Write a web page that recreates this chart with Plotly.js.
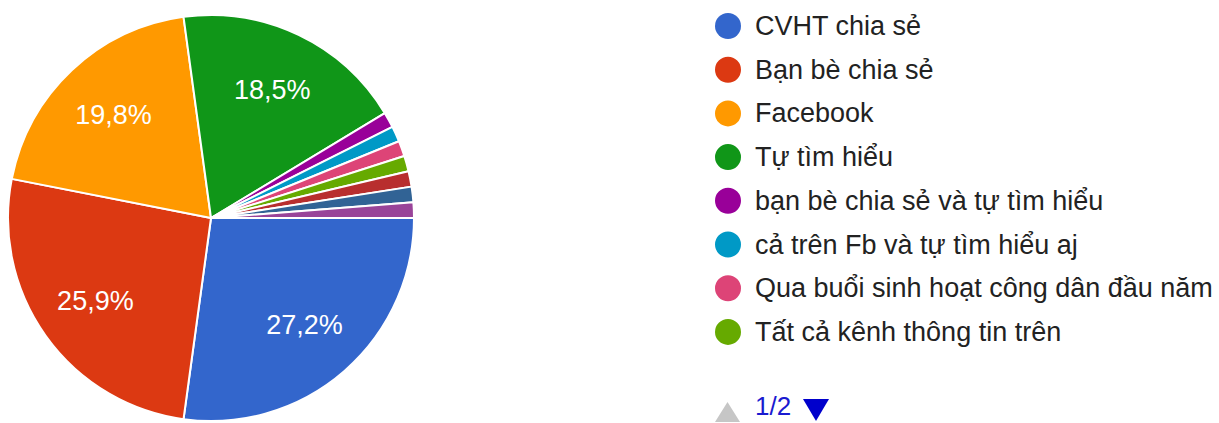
<!DOCTYPE html>
<html>
<head>
<meta charset="utf-8">
<script src="https://cdn.plot.ly/plotly-3.0.1.min.js"></script>
<style>html,body{margin:0;padding:0;background:#fff;}#chart{width:1219px;height:423px;}</style>
</head>
<body>
<div id="chart"></div>
<script>
// Data
const labels = [
  "CVHT chia sẻ",
  "Bạn bè chia sẻ",
  "Facebook",
  "Tự tìm hiểu",
  "bạn bè chia sẻ và tự tìm hiểu",
  "cả trên Fb và tự tìm hiểu aj",
  "Qua buổi sinh hoạt công dân đầu năm",
  "Tất cả kênh thông tin trên",
  "Khác 1",
  "Khác 2",
  "Khác 3"
];
const values = [22, 21, 16, 15, 1, 1, 1, 1, 1, 1, 1];
const colors = ["#3366cc", "#dc3912", "#ff9900", "#109618", "#990099", "#0099c6",
                "#dd4477", "#66aa00", "#b82e2e", "#316395", "#994499"];
const legendPageSize = 8;
const pageText = "1/2";

const W = 1219, H = 423;
const FONT = "Liberation Sans, Arial, sans-serif";
const total = values.reduce((a, b) => a + b, 0);
const templates = values.map(v => (v / total >= 0.05 ? "%{percent:.1%}" : ""));
const pieDomain = { x: [8 / W, 414 / W], y: [2 / H, 408 / H] };

// Filled pie (no text)
const pieFill = {
  type: "pie",
  labels: labels,
  values: values,
  sort: false,
  direction: "clockwise",
  rotation: 90,
  marker: { colors: colors, line: { color: "#ffffff", width: 2 } },
  textinfo: "none",
  showlegend: false,
  domain: pieDomain
};
// Transparent ring carrying the percent labels further out from the centre
const pieText = {
  type: "pie",
  labels: labels,
  values: values,
  sort: false,
  direction: "clockwise",
  rotation: 90,
  hole: 0.4,
  marker: { colors: values.map(() => "rgba(0,0,0,0)"), line: { width: 0 } },
  texttemplate: templates,
  textposition: "inside",
  insidetextorientation: "horizontal",
  textfont: { color: "#ffffff", size: 27, family: FONT },
  hoverinfo: "skip",
  showlegend: false,
  domain: pieDomain
};

// Custom legend (first page)
const shapes = [];
const annotations = [];
const legX = 728, legTextX = 753, legY0 = 26, legDy = 43.7, rad = 13;
const px = x => x / W, py = y => 1 - y / H;
for (let i = 0; i < legendPageSize; i++) {
  const cy = legY0 + i * legDy;
  shapes.push({
    type: "circle", xref: "paper", yref: "paper",
    x0: px(legX - rad), x1: px(legX + rad),
    y0: py(cy + rad), y1: py(cy - rad),
    fillcolor: colors[i], line: { width: 0 }
  });
  annotations.push({
    xref: "paper", yref: "paper", x: px(legTextX), y: py(cy),
    xanchor: "left", yanchor: "middle", showarrow: false, text: labels[i],
    font: { size: 27, color: "#222222", family: FONT }
  });
}
// Pagination arrows
shapes.push({
  type: "path", xref: "paper", yref: "paper",
  path: `M ${px(715)} ${py(422)} L ${px(740)} ${py(422)} L ${px(727.5)} ${py(402)} Z`,
  fillcolor: "#c6c6c6", line: { width: 0 }
});
shapes.push({
  type: "path", xref: "paper", yref: "paper",
  path: `M ${px(803)} ${py(399)} L ${px(829)} ${py(399)} L ${px(816)} ${py(421)} Z`,
  fillcolor: "#0000cc", line: { width: 0 }
});
annotations.push({
  xref: "paper", yref: "paper", x: px(754), y: py(406), xanchor: "left", yanchor: "middle",
  showarrow: false, borderpad: 0, text: pageText, font: { size: 26, color: "#1a1ad0", family: FONT }
});

const layout = {
  width: W, height: H,
  margin: { l: 0, r: 0, t: 0, b: 0 },
  paper_bgcolor: "#ffffff",
  separators: ",.",
  showlegend: false,
  shapes: shapes,
  annotations: annotations,
  font: { family: FONT }
};

Plotly.newPlot("chart", [pieFill, pieText], layout, { displayModeBar: false, staticPlot: true });
</script>
</body>
</html>
